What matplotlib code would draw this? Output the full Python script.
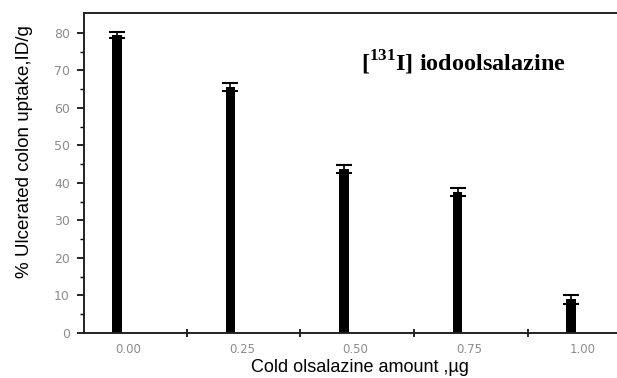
import matplotlib.pyplot as plt
import numpy as np

# cold olsalazine dose (ug) vs ulcerated colon uptake (%ID/g)
amounts = [0.00, 0.25, 0.50, 0.75, 1.00]
amount_labels = ["0.00", "0.25", "0.50", "0.75", "1.00"]
uptake = [79.5, 65.5, 43.6, 37.6, 9.0]
uptake_err = [0.8, 1.1, 1.1, 1.1, 1.2]

TICK_GRAY = "#8c8c8c"

plt.rcParams["mathtext.fontset"] = "custom"
plt.rcParams["mathtext.rm"] = "Liberation Serif"
plt.rcParams["mathtext.bf"] = "Liberation Serif:bold"


def main():
    fig = plt.figure(figsize=(6.17, 3.78), dpi=100)
    ax = fig.add_axes([0.136, 0.119, 0.864, 0.847])

    x = np.array(amounts)
    ax.bar(x, uptake, width=0.021, color="black", zorder=2)
    ax.errorbar(x, uptake, yerr=uptake_err, fmt="none", ecolor="black",
                elinewidth=1.2, capsize=6, capthick=1.5, zorder=3)

    ax.set_xlim(-0.0727, 1.101)
    ax.set_ylim(0, 85.3)

    ax.spines["right"].set_visible(False)
    for side in ("left", "top", "bottom"):
        ax.spines[side].set_linewidth(1.4)
        ax.spines[side].set_color("#222222")

    # labels sit slightly right of the bars, ticks fall between groups
    ax.set_xticks(x + 0.025)
    ax.set_xticklabels(amount_labels)
    ax.set_xticks(x[:-1] + 0.154, minor=True)
    ax.tick_params(axis="x", which="major", length=0, pad=7,
                   labelsize=8.5, labelcolor=TICK_GRAY)
    ax.tick_params(axis="x", which="minor", direction="inout", length=6, width=1.2)

    ax.set_yticks(np.arange(0, 81, 10))
    ax.set_yticks(np.arange(5, 85, 10), minor=True)
    ax.tick_params(axis="y", which="major", length=5, width=1.2, pad=5,
                   labelsize=9, labelcolor=TICK_GRAY)
    ax.tick_params(axis="y", which="minor", length=3, width=1.0)

    ax.set_ylabel("% Ulcerated colon uptake,ID/g", fontsize=13.5,
                  family="Liberation Sans", fontweight="medium")
    ax.yaxis.set_label_coords(-0.096, 0.566)
    ax.set_xlabel("Cold olsalazine amount ,\u00b5g", fontsize=13,
                  family="Liberation Sans")
    ax.xaxis.set_label_coords(0.518, -0.08)

    ax.text(0.52, 0.845, r"[$^{\mathbf{131}}$I] iodoolsalazine",
            transform=ax.transAxes, fontsize=17.5, fontweight="bold",
            family="Liberation Serif", va="center", ha="left")

    fig.savefig("out.png", dpi=100)


if __name__ == "__main__":
    main()
